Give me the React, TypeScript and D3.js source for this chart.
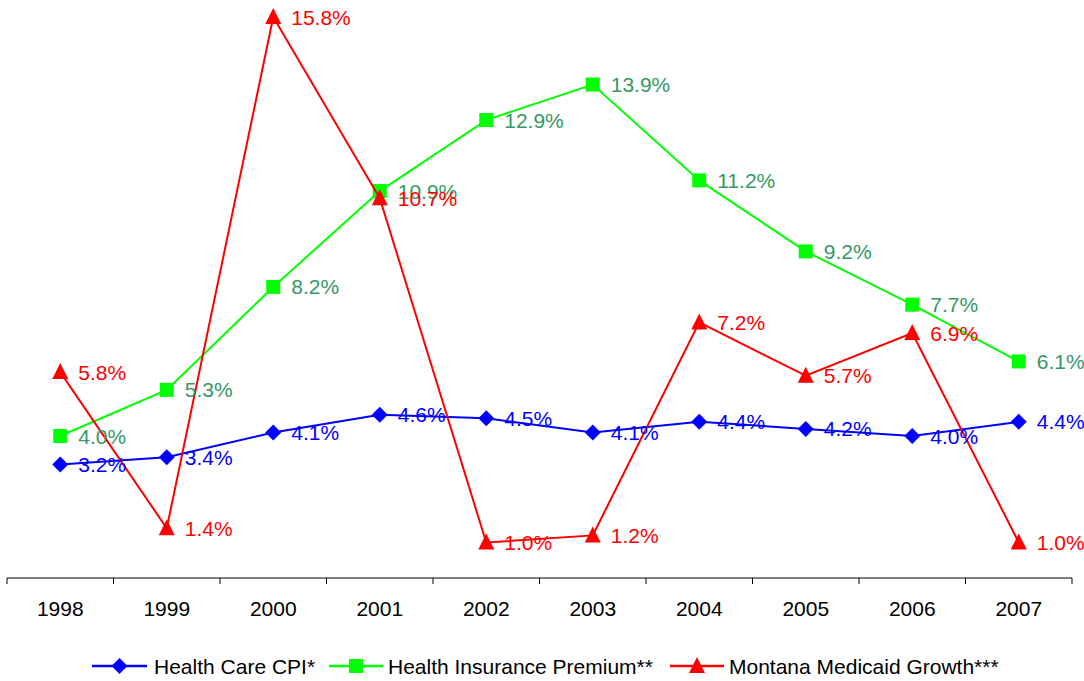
import React from "react";
import * as d3 from "d3";

const years = ["1998", "1999", "2000", "2001", "2002", "2003", "2004", "2005", "2006", "2007"];
const cpi = [3.2, 3.4, 4.1, 4.6, 4.5, 4.1, 4.4, 4.2, 4.0, 4.4];
const premium = [4.0, 5.3, 8.2, 10.9, 12.9, 13.9, 11.2, 9.2, 7.7, 6.1];
const medicaid = [5.8, 1.4, 15.8, 10.7, 1.0, 1.2, 7.2, 5.7, 6.9, 1.0];
const seriesNames = ["Health Care CPI*", "Health Insurance Premium**", "Montana Medicaid Growth***"];

const W = 1084;
const H = 681;
const FONT = "'Liberation Sans', Arial, sans-serif";

type Series = { name: string; values: number[]; line: string; label: string; marker: "diamond" | "square" | "triangle" };

const series: Series[] = [
  { name: seriesNames[0], values: cpi, line: "#0000FF", label: "#0000FF", marker: "diamond" },
  { name: seriesNames[1], values: premium, line: "#00FF00", label: "#339966", marker: "square" },
  { name: seriesNames[2], values: medicaid, line: "#FF0000", label: "#FF0000", marker: "triangle" },
];

function Marker({ kind, x, y, color }: { kind: string; x: number; y: number; color: string }) {
  if (kind === "diamond") {
    const s = 8;
    return <path d={`M${x},${y - s}L${x + s},${y}L${x},${y + s}L${x - s},${y}Z`} fill={color} />;
  }
  if (kind === "square") {
    const s = 7;
    return <rect x={x - s} y={y - s} width={2 * s} height={2 * s} fill={color} />;
  }
  const s = 8;
  return <path d={`M${x},${y - s - 1}L${x + s},${y + s - 1}L${x - s},${y + s - 1}Z`} fill={color} />;
}

export default function App() {
  const x = d3.scaleBand<string>().domain(years).range([7, 1072]);
  const y = d3.scaleLinear().domain([0, 16]).range([578, 10]);
  const cx = (i: number) => (x(years[i]) as number) + x.bandwidth() / 2;
  const line = d3
    .line<number>()
    .x((_, i) => cx(i))
    .y((d) => y(d));
  const tickXs = years.map((yr) => x(yr) as number).concat([1072]);
  const legendItems = [
    { x1: 92, x2: 147, tx: 154 },
    { x1: 329, x2: 383, tx: 388 },
    { x1: 670, x2: 724, tx: 729 },
  ];
  const legendY = 666;
  return (
    <svg width={W} height={H} style={{ position: "absolute", left: 0, top: 0, background: "#fff" }}>
      <rect width={W} height={H} fill="#fff" />
      {/* axis */}
      <line x1={7} x2={1072} y1={y(0)} y2={y(0)} stroke="#000" strokeWidth={1} />
      {tickXs.map((t, i) => (
        <line key={i} x1={t} x2={t} y1={y(0)} y2={y(0) + 6} stroke="#000" strokeWidth={1} />
      ))}
      {years.map((yr, i) => (
        <text key={yr} x={cx(i)} y={608} textAnchor="middle" dominantBaseline="central" fontFamily={FONT} fontSize={21} fill="#000">
          {yr}
        </text>
      ))}
      {series.map((s) => (
        <g key={s.name}>
          <path d={line(s.values) || ""} fill="none" stroke={s.line} strokeWidth={2} />
          {s.values.map((v, i) => (
            <Marker key={i} kind={s.marker} x={cx(i)} y={y(v)} color={s.line} />
          ))}
        </g>
      ))}
      {series.map((s) => (
        <g key={s.name + "-labels"}>
          {s.values.map((v, i) => (
            <text key={i} x={cx(i) + 18} y={y(v)} dominantBaseline="central" fontFamily={FONT} fontSize={21} fill={s.label}>
              {v.toFixed(1) + "%"}
            </text>
          ))}
        </g>
      ))}
      {/* legend */}
      {series.map((s, i) => {
        const li = legendItems[i];
        const mx = (li.x1 + li.x2) / 2;
        return (
          <g key={s.name + "-legend"}>
            <line x1={li.x1} x2={li.x2} y1={legendY} y2={legendY} stroke={s.line} strokeWidth={2.5} />
            <Marker kind={s.marker} x={mx} y={legendY} color={s.line} />
            <text x={li.tx} y={legendY} dominantBaseline="central" fontFamily={FONT} fontSize={21} fill="#000">
              {s.name}
            </text>
          </g>
        );
      })}
    </svg>
  );
}
